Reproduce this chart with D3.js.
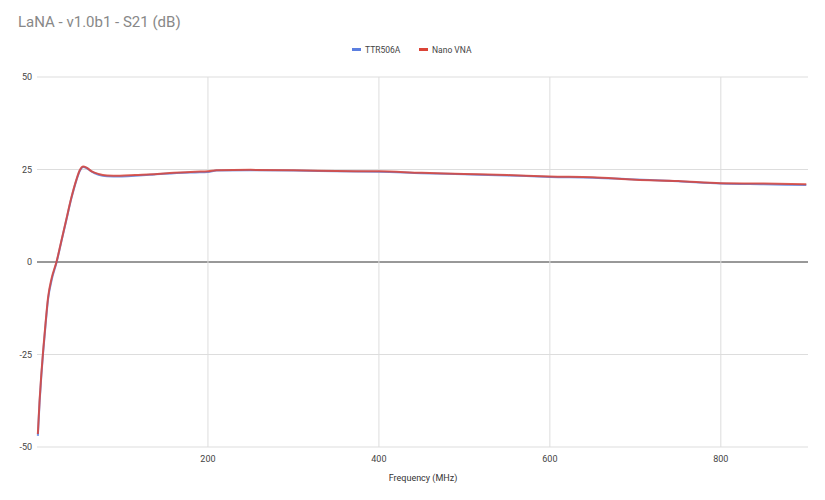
<!DOCTYPE html>
<html><head><meta charset="utf-8">
<script src="https://cdn.jsdelivr.net/npm/d3@7"></script>
<style>body{margin:0;background:#fff;font-family:Roboto,Arial,sans-serif}</style>
</head><body><svg id="chart" width="825" height="500"></svg>
<script>
const freqs = [1, 3, 5, 7, 10, 13, 17, 23, 28, 34, 40, 46, 50, 54, 58, 64, 72, 82, 97, 115, 135, 160, 185, 200, 210, 250, 300, 350, 400, 450, 500, 550, 600, 650, 700, 750, 800, 850, 900];
const ttr506a = [-47, -38, -31, -25, -17, -10, -5, 0, 5, 11, 17, 22, 24.6, 25.7, 25.4, 24.4, 23.6, 23.2, 23.1, 23.3, 23.6, 24.0, 24.2, 24.3, 24.7, 24.8, 24.7, 24.5, 24.4, 24.0, 23.7, 23.4, 23.0, 22.8, 22.3, 21.8, 21.2, 21.0, 20.8];
const nanoVna = [-46.5, -37.5, -30.5, -24.5, -16.5, -9.5, -4.5, 0.2, 5.2, 11.2, 17.2, 22.2, 24.8, 25.8, 25.5, 24.5, 23.8, 23.4, 23.3, 23.5, 23.7, 24.1, 24.4, 24.5, 24.8, 24.9, 24.8, 24.6, 24.5, 24.1, 23.8, 23.5, 23.1, 22.9, 22.2, 21.9, 21.3, 21.2, 21.0];
const xTicks = [200, 400, 600, 800];
const yTicks = [-50, -25, 0, 25, 50];
const seriesNames = ["TTR506A", "Nano VNA"];
const colors = ["#5b7fe0", "#db4437"];

const svg = d3.select("#chart");
const x = d3.scaleLinear().domain([0, 902]).range([37, 808]);
const y = d3.scaleLinear().domain([-50, 50]).range([447, 77]);

svg.append("text").attr("x", 18).attr("y", 27).attr("font-size", 15).attr("fill", "#888").text("LaNA - v1.0b1 - S21 (dB)");

// gridlines
svg.selectAll(".hg").data(yTicks).enter().append("line")
  .attr("x1", 37).attr("x2", 808).attr("y1", d => y(d)).attr("y2", d => y(d))
  .attr("stroke", d => d === 0 ? "#333" : "#ddd").attr("stroke-width", 1);
svg.selectAll(".vg").data(xTicks).enter().append("line")
  .attr("y1", 77).attr("y2", 447).attr("x1", d => x(d)).attr("x2", d => x(d))
  .attr("stroke", "#ddd");
svg.selectAll(".yl").data(yTicks).enter().append("text")
  .attr("x", 32).attr("y", d => y(d) + 3).attr("text-anchor", "end")
  .attr("font-size", 9).attr("fill", "#444").text(d => d);
svg.selectAll(".xl").data(xTicks).enter().append("text")
  .attr("x", d => x(d)).attr("y", 462).attr("text-anchor", "middle")
  .attr("font-size", 9).attr("fill", "#444").text(d => d);
svg.append("text").attr("x", 423).attr("y", 481).attr("text-anchor", "middle")
  .attr("font-size", 9).attr("fill", "#333").text("Frequency (MHz)");

const line = d3.line().x(d => x(d[0])).y(d => y(d[1])).curve(d3.curveMonotoneX);
[ttr506a, nanoVna].forEach((s, i) => {
  svg.append("path").attr("d", line(freqs.map((f, j) => [f, s[j]])))
    .attr("fill", "none").attr("stroke", colors[i]).attr("stroke-width", 2).attr("opacity", 0.85);
});

// legend
const lx = [352, 419];
seriesNames.forEach((n, i) => {
  svg.append("rect").attr("x", lx[i]).attr("y", 48).attr("width", 9).attr("height", 3).attr("fill", colors[i]);
  svg.append("text").attr("x", lx[i] + 13).attr("y", 53).attr("font-size", 8.5).attr("fill", "#444").text(n);
});
</script></body></html>
